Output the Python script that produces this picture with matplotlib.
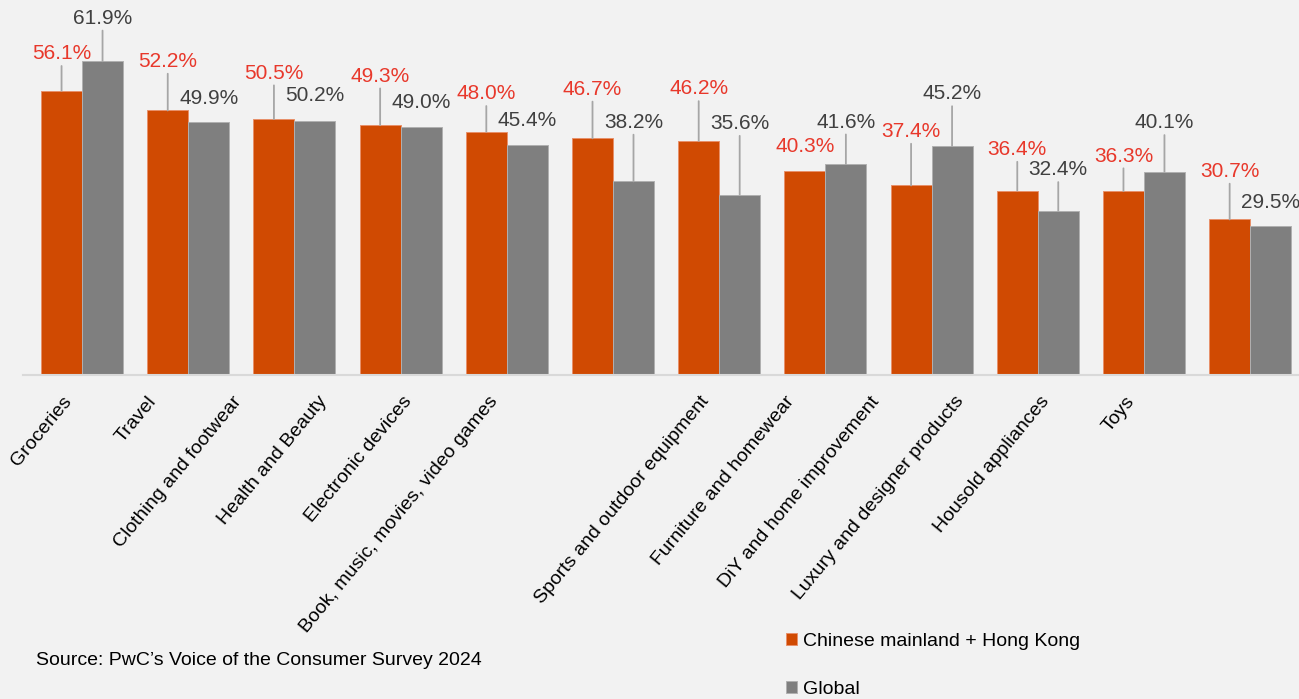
import matplotlib.pyplot as plt
import numpy as np
from matplotlib.transforms import ScaledTranslation

plt.rcParams["font.family"] = ["Liberation Sans", "DejaVu Sans"]

categories = [
    "Groceries", "Travel", "Clothing and footwear", "Health and Beauty",
    "Electronic devices", "Book, music, movies, video games",
    "Sports and outdoor equipment", "Furniture and homewear",
    "DiY and home improvement", "Luxury and designer products",
    "Housold appliances", "Toys",
]
cn_hk = [56.1, 52.2, 50.5, 49.3, 48.0, 46.7, 46.2, 40.3, 37.4, 36.4, 36.3, 30.7]
global_share = [61.9, 49.9, 50.2, 49.0, 45.4, 38.2, 35.6, 41.6, 45.2, 32.4, 40.1, 29.5]

# how far (pixels) each value label sits above its bar
cn_lift = [37, 49, 46, 49, 38, 49, 52, 24, 54, 41, 35, 48]
gl_lift = [43, 24, 25, 24, 24, 59, 71, 42, 52, 41, 49, 23]

ORANGE = "#D04A02"
GREY = "#7F7F7F"
BG = "#F2F2F2"

W, H = 1299, 699
fig = plt.figure(figsize=(W / 100, H / 100), dpi=100, facecolor=BG)
ax = fig.add_axes([23 / W, (H - 375) / H, 1276 / W, 375 / H], facecolor=BG)

x = np.arange(len(categories))
bw = 0.386
b1 = ax.bar(x - bw / 2, cn_hk, bw, color=ORANGE, edgecolor="#E8906A", linewidth=0.7,
            label="Chinese mainland + Hong Kong")
b2 = ax.bar(x + bw / 2, global_share, bw, color=GREY, edgecolor="#B0B0B0", linewidth=0.7,
            label="Global")

ax.set_xlim(-0.556, 11.46)
ax.set_ylim(0, 74)
ax.set_yticks([])
for s in ("left", "right", "top"):
    ax.spines[s].set_visible(False)
ax.spines["bottom"].set_color("#D9D9D9")
ax.spines["bottom"].set_linewidth(1.5)


def add_labels(xs, vals, lifts, color):
    for xi, v, lift in zip(xs, vals, lifts):
        arrow = None
        if lift > 28:
            arrow = dict(arrowstyle="-", color="#A6A6A6", lw=1.3, shrinkA=0, shrinkB=0)
        ax.annotate(f"{v:.1f}%", xy=(xi, v), xytext=(0, lift), textcoords="offset pixels",
                    ha="center", va="center", fontsize=15, color=color,
                    arrowprops=arrow, annotation_clip=False)


add_labels(x - bw / 2, cn_hk, cn_lift, "#E8382B")
add_labels(x + bw / 2, global_share, gl_lift, "#404040")

ax.set_xticks(x)
ax.set_xticklabels(categories, rotation=50.5, ha="right", rotation_mode="anchor", fontsize=14)
ax.tick_params(axis="x", length=0, pad=13)
# labels drift left in two runs of six
for i, lab in enumerate(ax.get_xticklabels()):
    shift = -(20 + 21 * (i % 6))
    lab.set_transform(lab.get_transform() + ScaledTranslation(shift / 100, 0, fig.dpi_scale_trans))

fig.text(36 / W, 1 - 665 / H, "Source: PwC\u2019s Voice of the Consumer Survey 2024",
         fontsize=14, color="black", va="baseline", ha="left")

fig.legend(handles=[b1, b2], loc="upper left", bbox_to_anchor=(776 / W, 1 - 623 / H),
           frameon=False, fontsize=14, handlelength=0.6, handleheight=0.6,
           handletextpad=0.3, labelspacing=1.6, borderpad=0)

fig.savefig("out.png", dpi=100, facecolor=BG)
